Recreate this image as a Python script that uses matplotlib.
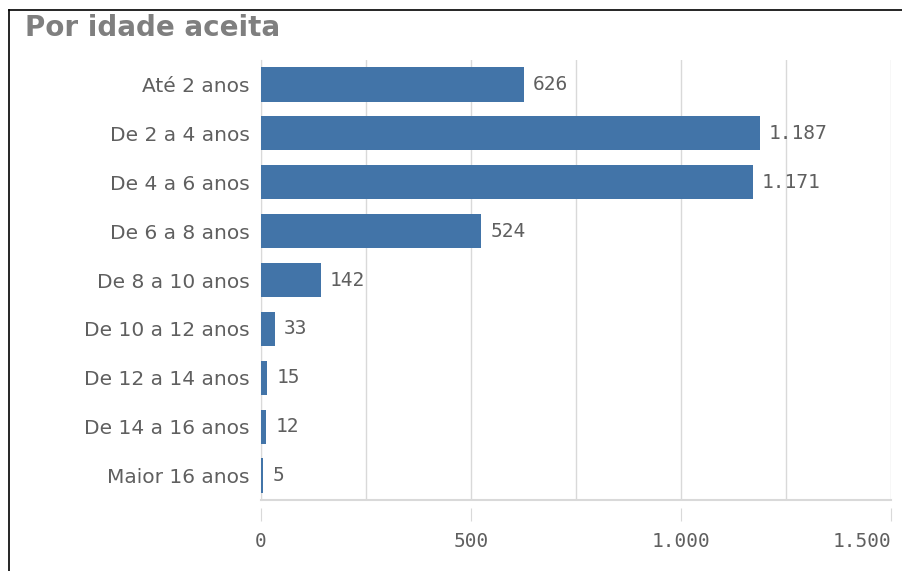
import matplotlib
matplotlib.use("Agg")
import matplotlib.pyplot as plt
from matplotlib.lines import Line2D
from matplotlib.ticker import MultipleLocator

categories = ["Até 2 anos", "De 2 a 4 anos", "De 4 a 6 anos", "De 6 a 8 anos",
              "De 8 a 10 anos", "De 10 a 12 anos", "De 12 a 14 anos",
              "De 14 a 16 anos", "Maior 16 anos"]
values = [626, 1187, 1171, 524, 142, 33, 15, 12, 5]
xticks = [0, 500, 1000, 1500]

bar_color = "#4274a8"
text_color = "#5f5f5f"
grid_color = "#d9d9d9"
mono = "DejaVu Sans Mono"


def fmt(v):
    return f"{v:,}".replace(",", ".")


fig = plt.figure(figsize=(9.02, 5.71), dpi=100)
ax = fig.add_axes([261 / 902, 1 - 500 / 571, 630 / 902, 440 / 571])

# spines first: set_position resets the ticks
for s in ["top", "right"]:
    ax.spines[s].set_visible(False)
ax.spines["left"].set_color(grid_color)
ax.spines["bottom"].set_position(("outward", 6))
ax.spines["bottom"].set_visible(False)

pos = list(range(len(categories)))
ax.barh(pos, values, height=0.7, color=bar_color, zorder=3)
ax.set_ylim(len(categories) - 0.5, -0.5)
ax.set_xlim(0, 1500)

for p, v in zip(pos, values):
    ax.text(v + 22, p, fmt(v), va="center", ha="left", fontsize=14,
            family=mono, color=text_color, zorder=4)

ax.set_yticks(pos)
ax.set_yticklabels(categories, fontsize=14.5, color=text_color)
ax.tick_params(axis="y", length=0, pad=8)

ax.xaxis.set_minor_locator(MultipleLocator(250))
ax.set_xticks(xticks)
ax.tick_params(axis="x", which="major", length=9, color=grid_color, pad=8)
ax.tick_params(axis="x", which="minor", length=0)
ax.set_xticklabels([fmt(t) for t in xticks], fontsize=14, family=mono, color=text_color)
ax.get_xticklabels()[-1].set_horizontalalignment("right")
ax.grid(axis="x", which="both", color=grid_color, linewidth=1, zorder=0)

ax.axhline(len(categories) - 0.5, color=grid_color, linewidth=1.5, clip_on=False, zorder=1)

fig.text(25 / 902, 1 - 28 / 571, "Por idade aceita", fontsize=20, fontweight="heavy",
         color="#7f7f7f", va="center", ha="left")

# moldura preta (topo e esquerda)
fig.add_artist(Line2D([9 / 902, 1], [1 - 10 / 571, 1 - 10 / 571], color="black", linewidth=1.2))
fig.add_artist(Line2D([9 / 902, 9 / 902], [0, 1 - 10 / 571], color="black", linewidth=1.2))

fig.savefig("out.png", dpi=100)
